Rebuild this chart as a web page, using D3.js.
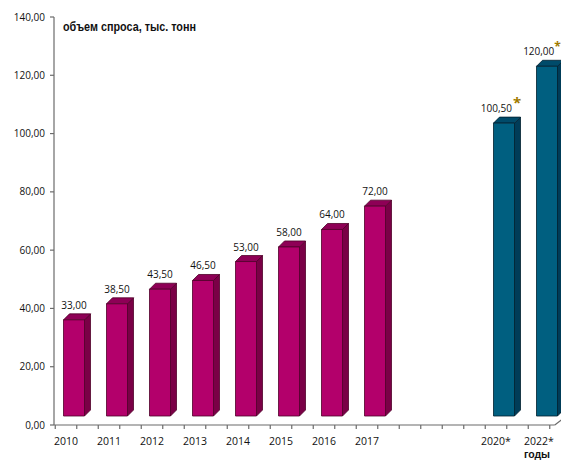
<!DOCTYPE html>
<html>
<head>
<meta charset="utf-8">
<script src="https://cdn.jsdelivr.net/npm/d3@7/dist/d3.min.js"></script>
<style>
  html, body { margin: 0; padding: 0; background: #fff; }
  svg { display: block; }
</style>
</head>
<body>
<div id="chart"></div>
<script>
// ---- data ----
const categories = ["2010","2011","2012","2013","2014","2015","2016","2017","2018","2019","2020*","2022*"];
const tickLabels = ["2010","2011","2012","2013","2014","2015","2016","2017","","","2020*","2022*"];
const values = [33, 38.5, 43.5, 46.5, 53, 58, 64, 72, null, null, 100.5, 120];
const forecast = [false,false,false,false,false,false,false,false,false,false,true,true];
const yTicks = [0, 20, 40, 60, 80, 100, 120, 140];
const titleText = "объем спроса, тыс. тонн";
const xTitle = "годы";

// ---- layout ----
const W = 561, H = 461;
const svg = d3.select("#chart").append("svg").attr("width", W).attr("height", H);

const y = d3.scaleLinear().domain([0, 140]).range([425, 17]);
const x = d3.scaleBand().domain(categories).range([44.5, 560.5]);
const slot = x.bandwidth();
const depth = 6;       // 3D depth offset
const floorLift = 9;   // bars stand on floor behind axis
const barOff = 19, barW = 21;
const fmt = v => d3.format(".2f")(v).replace(".", ",");

const colors = {
  hist: {front: "#b3006b", side: "#7a0046", top: "#8e0056", stroke: "#4f0028"},
  fc:   {front: "#005f80", side: "#003c58", top: "#004b6a", stroke: "#00202f"}
};

// y axis
const axisColor = "#6b6b6b";
svg.append("line").attr("x1", 54).attr("x2", 54).attr("y1", y(140)).attr("y2", y(0))
  .attr("stroke", axisColor).attr("stroke-width", 1.2);
const yg = svg.append("g");
yg.selectAll("line").data(yTicks).join("line")
  .attr("x1", 50).attr("x2", 54).attr("y1", d => y(d)).attr("y2", d => y(d))
  .attr("stroke", axisColor).attr("stroke-width", 1.2);
yg.selectAll("text").data(yTicks).join("text")
  .attr("x", 45).attr("y", d => y(d)).attr("dy", "0.35em")
  .attr("text-anchor", "end")
  .attr("font-family", "'Open Sans', sans-serif").attr("font-size", 10)
  .attr("fill", "#111")
  .text(d => fmt(d));

// x axis
const xEnd = x(categories[categories.length - 1]) + slot * 0.75 + 5;
svg.append("line").attr("x1", 54).attr("x2", xEnd).attr("y1", y(0)).attr("y2", y(0))
  .attr("stroke", axisColor).attr("stroke-width", 1.2);
svg.append("line").attr("x1", xEnd).attr("x2", xEnd + 12).attr("y1", y(0)).attr("y2", y(0) - floorLift)
  .attr("stroke", axisColor).attr("stroke-width", 1.2);
const halfTicks = [];
categories.forEach(c => { halfTicks.push(x(c) + slot * 0.25); halfTicks.push(x(c) + slot * 0.75); });
svg.append("g").selectAll("line").data(halfTicks).join("line")
  .attr("x1", d => d).attr("x2", d => d).attr("y1", y(0)).attr("y2", y(0) + 4)
  .attr("stroke", axisColor).attr("stroke-width", 1.2);
svg.append("g").selectAll("text").data(categories).join("text")
  .attr("x", d => x(d) + slot / 2).attr("y", 445)
  .attr("text-anchor", "middle")
  .attr("font-family", "'Open Sans', sans-serif").attr("font-size", 10.5)
  .attr("fill", "#111")
  .text((d, i) => tickLabels[i]);

// bars
const bars = categories.map((c, i) => ({c, v: values[i], f: forecast[i]})).filter(d => d.v != null);
const bg = svg.append("g");
bars.forEach((d, k) => {
  const col = d.f ? colors.fc : colors.hist;
  const x0 = x(d.c) + barOff, x1 = x0 + barW;
  const top = y(d.v) - floorLift, base = y(0) - floorLift;
  const g = bg.append("g").attr("stroke", col.stroke).attr("stroke-width", 0.8).attr("stroke-linejoin", "round");
  g.append("polygon")
    .attr("points", [[x1, top], [x1 + depth, top - depth], [x1 + depth, base - depth], [x1, base]].join(" "))
    .attr("fill", col.side);
  g.append("polygon")
    .attr("points", [[x0, top], [x0 + depth, top - depth], [x1 + depth, top - depth], [x1, top]].join(" "))
    .attr("fill", col.top);
  g.append("rect").attr("x", x0).attr("y", top).attr("width", barW).attr("height", base - top)
    .attr("fill", col.front);
  // value label
  const last = k === bars.length - 1;
  const t = svg.append("text")
    .attr("x", x0 + barW / 2 + (d.f ? (last ? -5 : -3) : 0)).attr("y", top - depth - 5)
    .attr("text-anchor", "middle")
    .attr("font-family", "'Open Sans', sans-serif").attr("font-size", 10)
    .attr("fill", "#111");
  t.append("tspan").text(fmt(d.v));
  if (d.f) {
    t.append("tspan").attr("dy", -4).attr("dx", last ? 0 : 1).attr("font-size", last ? 12 : 15)
      .attr("font-weight", "bold").attr("fill", "#a07a00").text("*");
  }
});

// titles
svg.append("text").attr("x", 63).attr("y", 31)
  .attr("font-family", "'Liberation Sans Narrow', 'Liberation Sans', Arial, sans-serif")
  .attr("font-size", 12.5).attr("font-weight", "bold").attr("fill", "#111")
  .attr("textLength", 133).attr("lengthAdjust", "spacingAndGlyphs")
  .text(titleText);
svg.append("text").attr("x", 537).attr("y", 458)
  .attr("text-anchor", "middle")
  .attr("font-family", "'Liberation Sans', Arial, sans-serif")
  .attr("font-size", 10.5).attr("font-weight", "bold").attr("fill", "#111")
  .text(xTitle);
</script>
</body>
</html>
